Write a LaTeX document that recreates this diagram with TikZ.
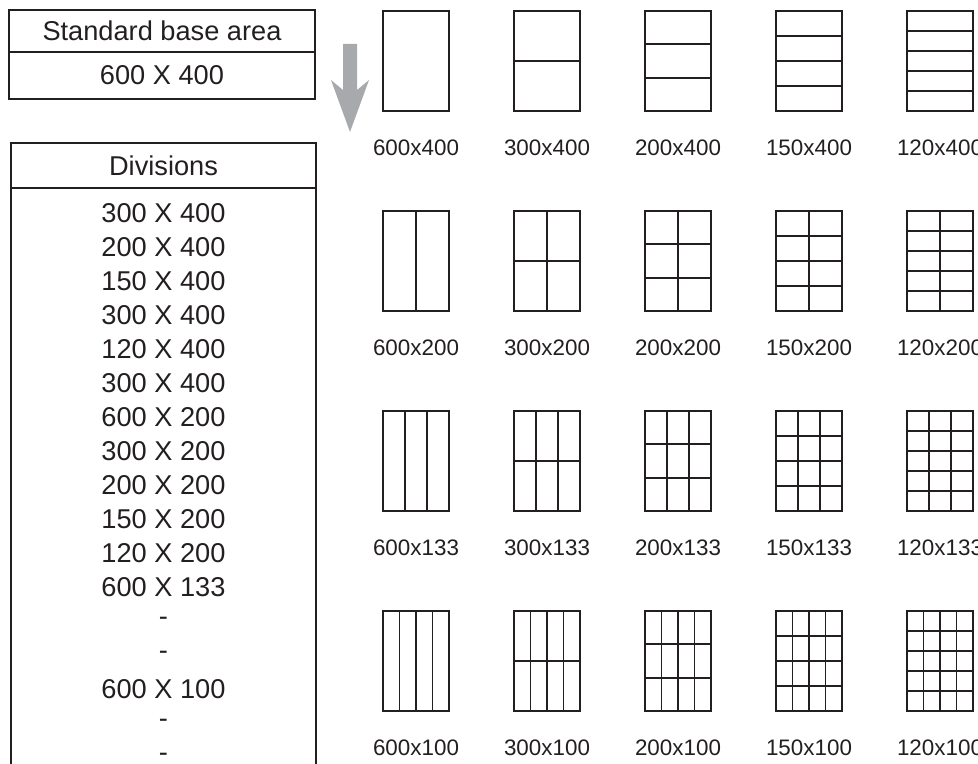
\documentclass[tikz,border=0pt]{standalone}
\usepackage{fontspec}
\setmainfont{Liberation Sans}
\usetikzlibrary{positioning}
\definecolor{sotet}{HTML}{231F20}
\definecolor{szurke}{HTML}{A7A9AC}
\tikzset{
  doboz/.style={draw=sotet,line width=0.9pt,outer sep=0pt,inner sep=0pt,minimum width=153pt,
                font=\fontsize{13.6}{16}\selectfont,text=sotet},
  sor/.style={inner sep=0pt,font=\fontsize{13.6}{16}\selectfont,text=sotet},
  racs/.style={draw=sotet,line width=0.9pt},
  felirat/.style={inner sep=0pt,font=\fontsize{11.2}{13}\selectfont,text=sotet},
  nyil/.style={fill=szurke,draw=none},
}

\begin{document}
\begin{tikzpicture}[x=0.5pt,y=-0.5pt]
  \clip (0,0) rectangle (978,764);
  % alapterulet
  \node[doboz,minimum height=21pt] (alap) at (162,31) {Standard base area};
  \node[doboz,minimum height=23.5pt,below=0pt of alap] (meret) {600 X 400};
  \fill[nyil] (343,44) -- (357,44) -- (357,90) -- (369,80) -- (350,132) -- (331,80) -- (343,90) -- cycle;
  % felosztasok listaja
  \node[doboz,minimum width=152.5pt,minimum height=22.5pt,anchor=north west] (fejlec) at (11,143) {Divisions};
  \node[doboz,minimum width=152.5pt,minimum height=300pt,below=0pt of fejlec] (keret) {};
  \foreach \t [count=\k from 0] in {300 X 400,200 X 400,150 X 400,300 X 400,120 X 400,300 X 400,
      600 X 200,300 X 200,200 X 200,150 X 200,120 X 200,600 X 133,-,-,600 X 100,-,-}
    \node[sor] (d\k) at (163.5,213+34*\k) {\t};
  % racsok
  \foreach \r/\h in {1/400,2/200,3/133,4/100}{
    \foreach \c/\w in {1/600,2/300,3/200,4/150,5/120}{
      \begin{scope}[shift={(252+131*\c,200*\r-189)}]
        \draw[racs] (0,0) rectangle (66,100);
        \ifnum\r>1 \foreach \i in {2,...,\r} \draw[racs] ({66*(\i-1)/\r},0) -- ++(0,100); \fi
        \ifnum\c>1 \foreach \j in {2,...,\c} \draw[racs] (0,{100*(\j-1)/\c}) -- ++(66,0); \fi
        \node[felirat] (l-\r-\c) at (33,137) {\w{}x\h};
      \end{scope}
    }
  }
\end{tikzpicture}
\end{document}
